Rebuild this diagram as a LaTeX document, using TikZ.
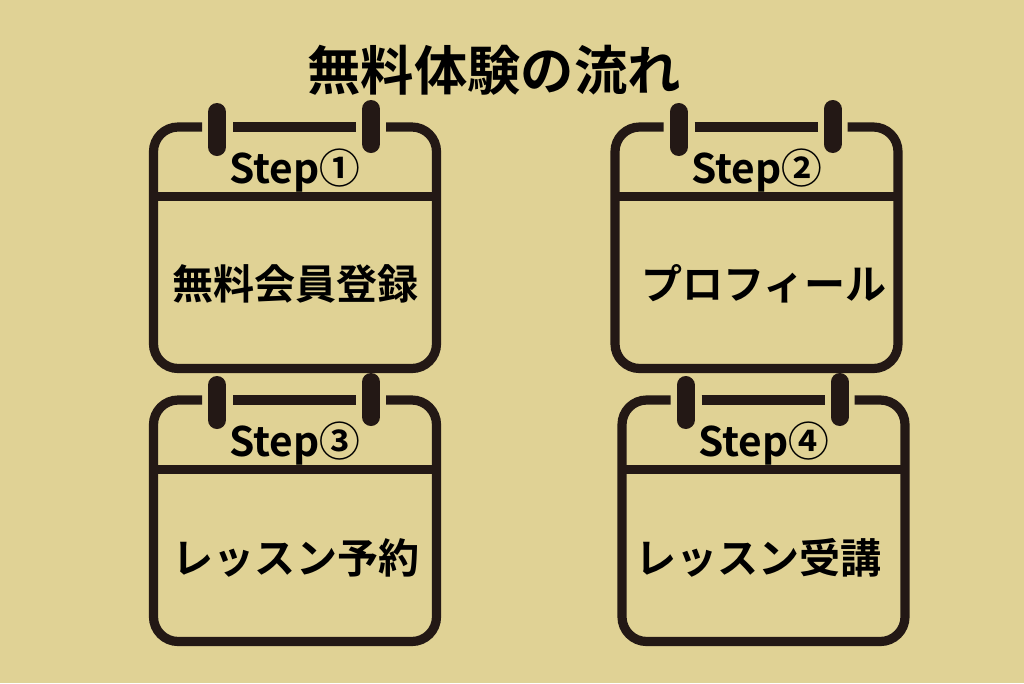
\documentclass[tikz,border=0pt]{standalone}
\usepackage{fontspec}
\newfontfamily\cjk{Noto Sans CJK JP Bold}
\definecolor{bgc}{HTML}{E0D295}
\definecolor{ink}{HTML}{231815}
\tikzset{
  x=0.75pt,y=-0.75pt,
  cardline/.style={draw=ink,line width=6.9pt},
  ring/.style={draw=ink,line width=13.5pt,line cap=round},
  steplabel/.style={font=\cjk\fontsize{30.5}{31}\selectfont,text=black,inner sep=0pt,anchor=base},
  bodylabel/.style={font=\cjk\fontsize{30.8}{31}\selectfont,text=black,inner sep=0pt,anchor=base},
  titlelabel/.style={font=\cjk\fontsize{40}{40}\selectfont,text=black,inner sep=0pt,anchor=base}
}
% #1 x offset, #2 y offset
\newcommand{\calcard}[2]{%
  \begin{scope}[shift={(#1*0.75pt,-#2*0.75pt)}]
    \draw[cardline,rounded corners=18.5pt] (202,127) -- (153.5,127) -- (153.5,368.5) -- (436.5,368.5) -- (436.5,127) -- (386,127);
    \draw[cardline] (233,127) -- (356,127);
    \draw[cardline] (153.5,196.5) -- (436.5,196.5);
    \draw[ring] (217,112) -- (217,147);
    \draw[ring] (371,109) -- (371,144);
  \end{scope}}
\begin{document}
\begin{tikzpicture}
  \useasboundingbox (0,0) rectangle (1024,683);
  \fill[bgc] (0,0) rectangle (1024,683);
  \calcard{0}{0}
  \calcard{461.5}{0}
  \calcard{0}{273}
  \calcard{468.5}{273}
  \node[titlelabel] (title) at (494,90) {無料体験の流れ};
  \node[steplabel] (s1) at (295,183) {Step①};
  \node[steplabel] (s2) at (757,183) {Step②};
  \node[steplabel] (s3) at (295,456) {Step③};
  \node[steplabel] (s4) at (764,456) {Step④};
  \node[bodylabel] (b1) at (295.5,299) {無料会員登録};
  \node[bodylabel] (b2) at (764,299) {プロフィール};
  \node[bodylabel] (b3) at (296,573) {レッスン予約};
  \node[bodylabel] (b4) at (758.5,573) {レッスン受講};
\end{tikzpicture}
\end{document}
